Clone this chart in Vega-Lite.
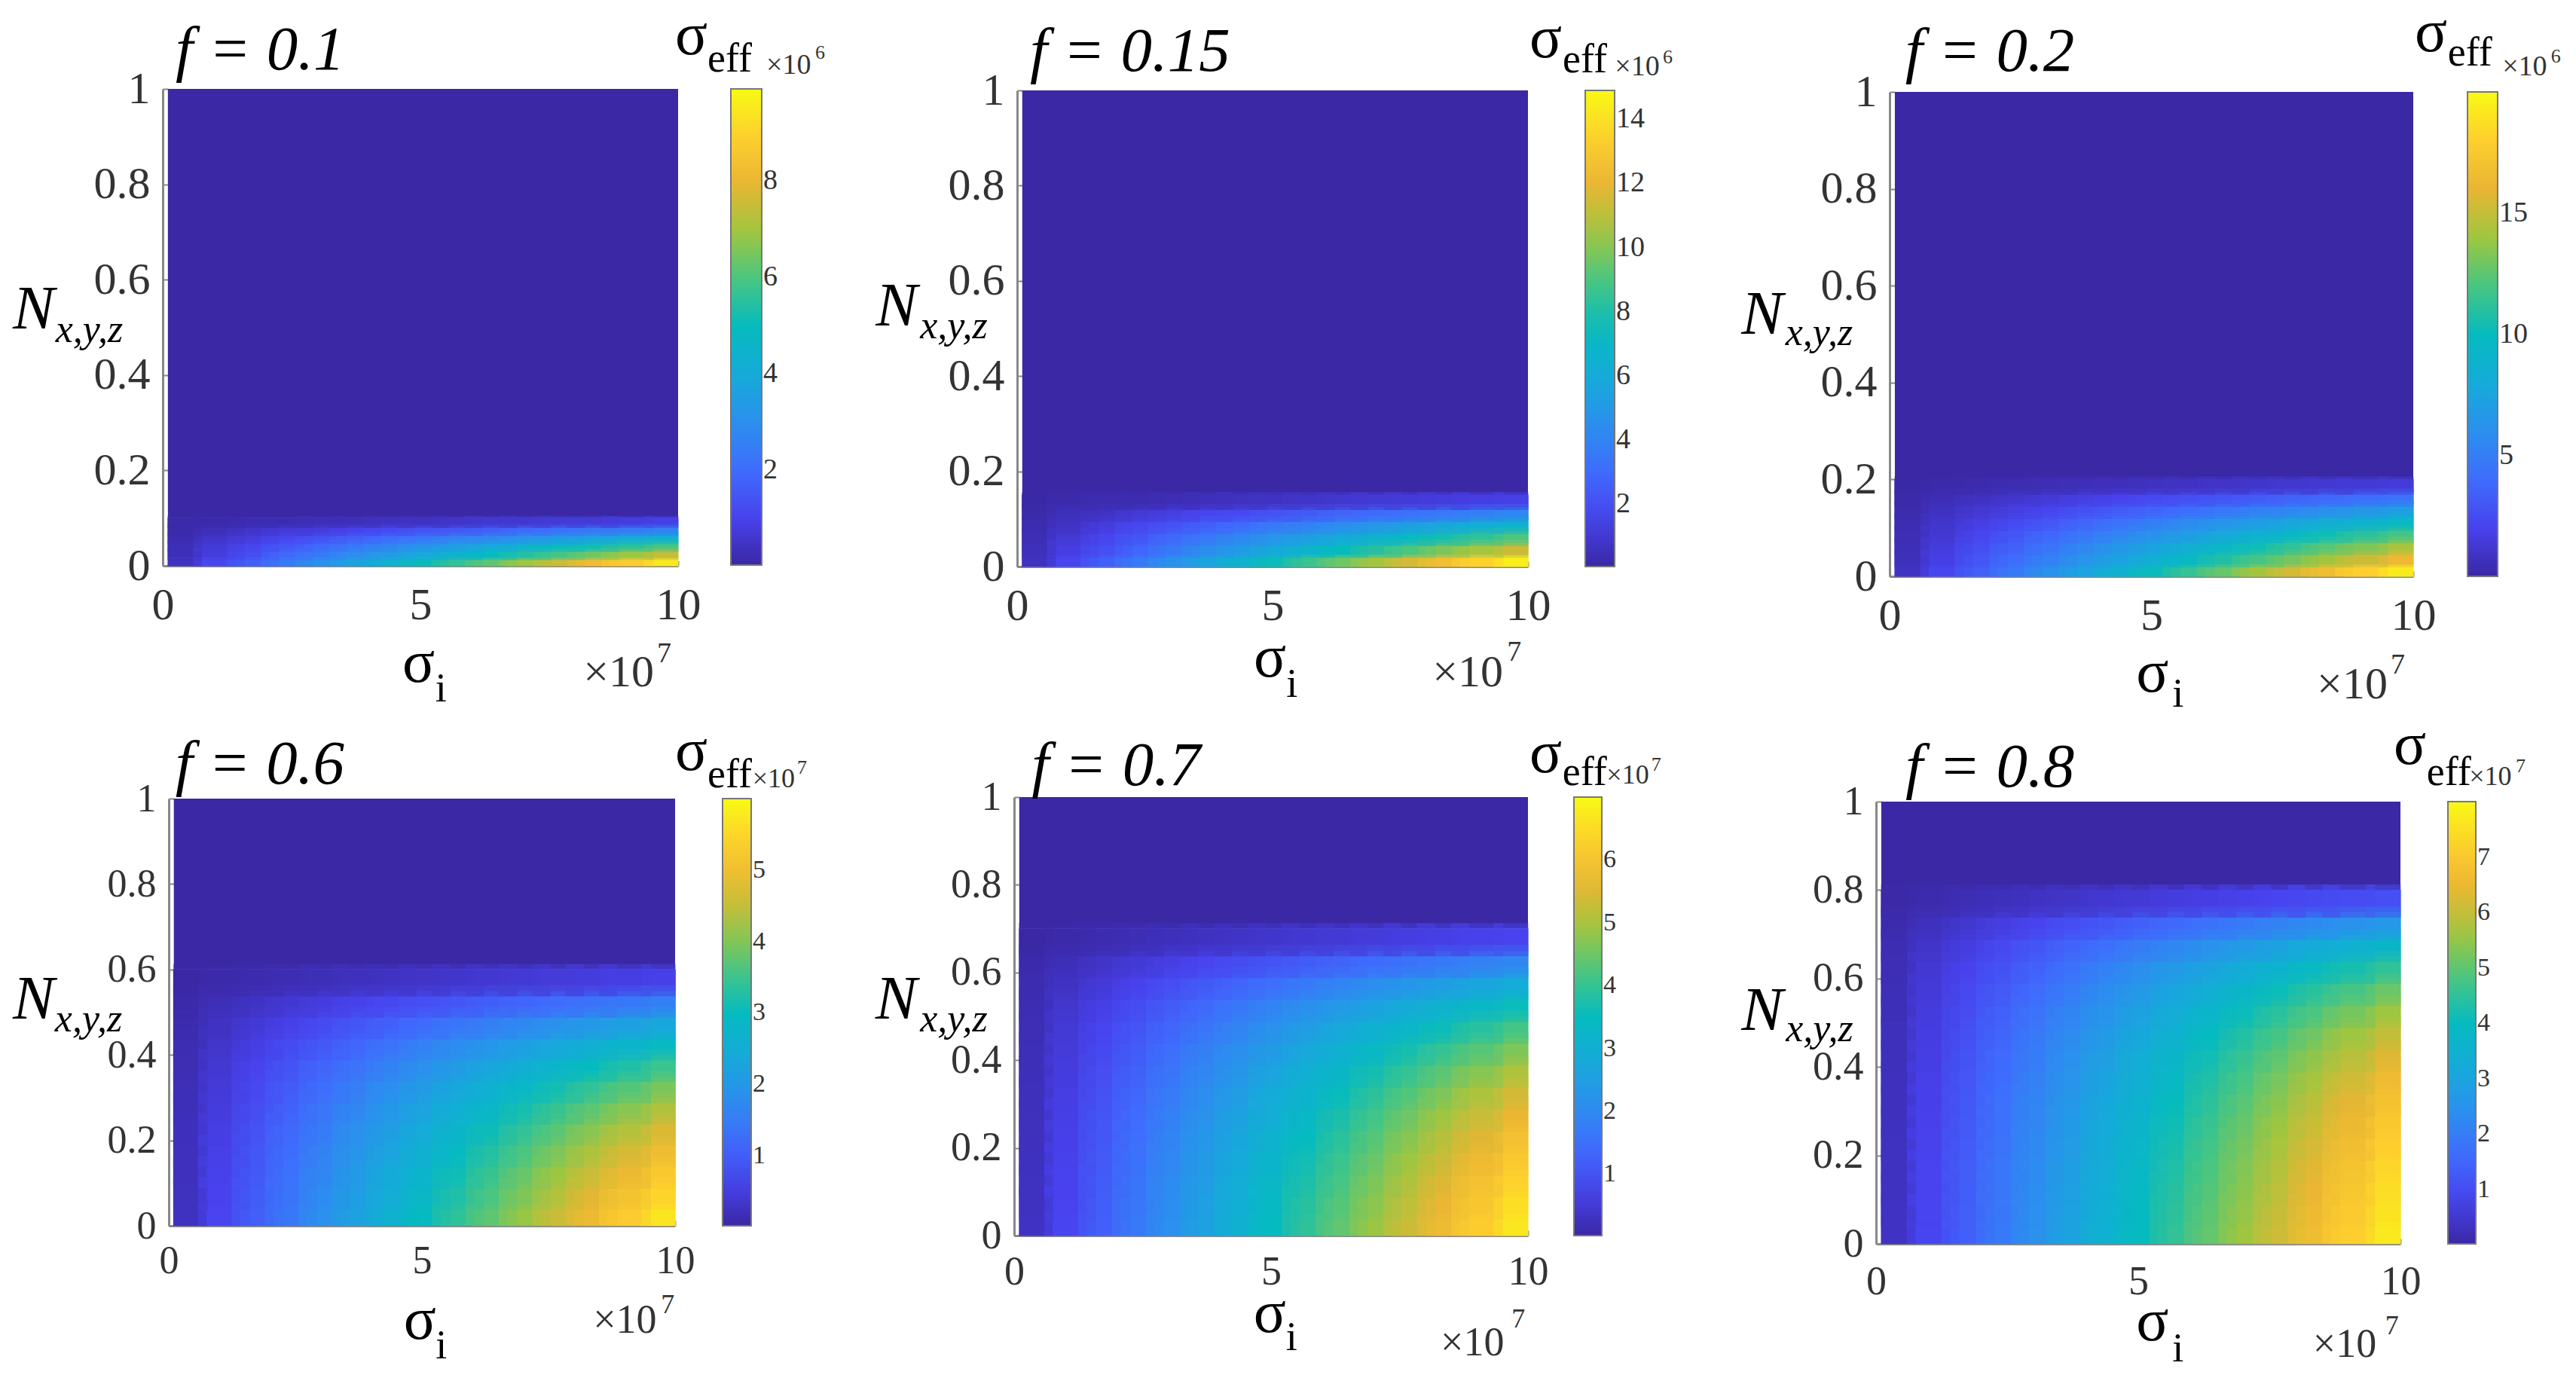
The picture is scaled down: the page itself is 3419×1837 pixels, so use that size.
{"$schema":"https://vega.github.io/schema/vega-lite/v5.json","background":"white","padding":0,"config":{"view":{"stroke":null},"text":{"baseline":"alphabetic","align":"left","font":"Liberation Serif"},"axis":{"grid":false,"title":null,"labelFont":"Liberation Serif","labelColor":"#333333","labelOverlap":false,"labelFlush":false,"domainColor":"#888888","domainWidth":3,"tickColor":"#888888","tickWidth":2,"tickSize":-7,"zindex":1},"legend":{"orient":"none","title":null,"direction":"vertical","labelFont":"Liberation Serif","labelColor":"#333333","gradientOpacity":1,"gradientStrokeColor":"#777777","gradientStrokeWidth":2,"labelOffset":14,"labelOverlap":false}},"resolve":{"scale":{"color":"independent"},"legend":{"color":"independent"}},"columns":3,"spacing":0,"bounds":"flush","align":"none",
"datasets":{
"p1":[
{"s":0.43,"n":0.008,"v":0.4},{"s":1.09,"n":0.008,"v":1.1},{"s":1.75,"n":0.008,"v":1.7},{"s":2.41,"n":0.008,"v":2.4},{"s":3.07,"n":0.008,"v":3.0},{"s":3.73,"n":0.008,"v":3.7},{"s":4.39,"n":0.008,"v":4.3},{"s":5.05,"n":0.008,"v":5.0},{"s":5.71,"n":0.008,"v":5.6},{"s":6.37,"n":0.008,"v":6.2},{"s":7.03,"n":0.008,"v":6.9},{"s":7.69,"n":0.008,"v":7.5},{"s":8.35,"n":0.008,"v":8.2},{"s":9.01,"n":0.008,"v":8.8},{"s":9.67,"n":0.008,"v":9.5},
{"s":0.43,"n":0.025,"v":0.3},{"s":1.09,"n":0.025,"v":0.8},{"s":1.75,"n":0.025,"v":1.3},{"s":2.41,"n":0.025,"v":1.9},{"s":3.07,"n":0.025,"v":2.4},{"s":3.73,"n":0.025,"v":2.9},{"s":4.39,"n":0.025,"v":3.4},{"s":5.05,"n":0.025,"v":3.9},{"s":5.71,"n":0.025,"v":4.4},{"s":6.37,"n":0.025,"v":4.9},{"s":7.03,"n":0.025,"v":5.4},{"s":7.69,"n":0.025,"v":5.9},{"s":8.35,"n":0.025,"v":6.4},{"s":9.01,"n":0.025,"v":6.9},{"s":9.67,"n":0.025,"v":7.4},
{"s":0.43,"n":0.042,"v":0.3},{"s":1.09,"n":0.042,"v":0.7},{"s":1.75,"n":0.042,"v":1.1},{"s":2.41,"n":0.042,"v":1.5},{"s":3.07,"n":0.042,"v":1.9},{"s":3.73,"n":0.042,"v":2.3},{"s":4.39,"n":0.042,"v":2.7},{"s":5.05,"n":0.042,"v":3.1},{"s":5.71,"n":0.042,"v":3.5},{"s":6.37,"n":0.042,"v":3.9},{"s":7.03,"n":0.042,"v":4.3},{"s":7.69,"n":0.042,"v":4.7},{"s":8.35,"n":0.042,"v":5.1},{"s":9.01,"n":0.042,"v":5.5},{"s":9.67,"n":0.042,"v":5.9},
{"s":0.43,"n":0.058,"v":0.2},{"s":1.09,"n":0.058,"v":0.5},{"s":1.75,"n":0.058,"v":0.8},{"s":2.41,"n":0.058,"v":1.1},{"s":3.07,"n":0.058,"v":1.4},{"s":3.73,"n":0.058,"v":1.7},{"s":4.39,"n":0.058,"v":2.0},{"s":5.05,"n":0.058,"v":2.3},{"s":5.71,"n":0.058,"v":2.6},{"s":6.37,"n":0.058,"v":2.8},{"s":7.03,"n":0.058,"v":3.1},{"s":7.69,"n":0.058,"v":3.4},{"s":8.35,"n":0.058,"v":3.7},{"s":9.01,"n":0.058,"v":4.0},{"s":9.67,"n":0.058,"v":4.3},
{"s":0.43,"n":0.075,"v":0.1},{"s":1.09,"n":0.075,"v":0.3},{"s":1.75,"n":0.075,"v":0.5},{"s":2.41,"n":0.075,"v":0.7},{"s":3.07,"n":0.075,"v":0.8},{"s":3.73,"n":0.075,"v":1.0},{"s":4.39,"n":0.075,"v":1.2},{"s":5.05,"n":0.075,"v":1.4},{"s":5.71,"n":0.075,"v":1.5},{"s":6.37,"n":0.075,"v":1.7},{"s":7.03,"n":0.075,"v":1.9},{"s":7.69,"n":0.075,"v":2.1},{"s":8.35,"n":0.075,"v":2.3},{"s":9.01,"n":0.075,"v":2.4},{"s":9.67,"n":0.075,"v":2.6},
{"s":0.43,"n":0.092,"v":0.1},{"s":1.09,"n":0.092,"v":0.1},{"s":1.75,"n":0.092,"v":0.2},{"s":2.41,"n":0.092,"v":0.2},{"s":3.07,"n":0.092,"v":0.3},{"s":3.73,"n":0.092,"v":0.3},{"s":4.39,"n":0.092,"v":0.4},{"s":5.05,"n":0.092,"v":0.4},{"s":5.71,"n":0.092,"v":0.5},{"s":6.37,"n":0.092,"v":0.6},{"s":7.03,"n":0.092,"v":0.6},{"s":7.69,"n":0.092,"v":0.7},{"s":8.35,"n":0.092,"v":0.7},{"s":9.01,"n":0.092,"v":0.8},{"s":9.67,"n":0.092,"v":0.9}
],
"p2":[
{"s":0.43,"n":0.0125,"v":0.6},{"s":1.09,"n":0.0125,"v":1.6},{"s":1.75,"n":0.0125,"v":2.6},{"s":2.41,"n":0.0125,"v":3.6},{"s":3.07,"n":0.0125,"v":4.6},{"s":3.73,"n":0.0125,"v":5.6},{"s":4.39,"n":0.0125,"v":6.6},{"s":5.05,"n":0.0125,"v":7.6},{"s":5.71,"n":0.0125,"v":8.6},{"s":6.37,"n":0.0125,"v":9.6},{"s":7.03,"n":0.0125,"v":10.5},{"s":7.69,"n":0.0125,"v":11.5},{"s":8.35,"n":0.0125,"v":12.5},{"s":9.01,"n":0.0125,"v":13.5},{"s":9.67,"n":0.0125,"v":14.5},
{"s":0.43,"n":0.0375,"v":0.5},{"s":1.09,"n":0.0375,"v":1.3},{"s":1.75,"n":0.0375,"v":2.0},{"s":2.41,"n":0.0375,"v":2.8},{"s":3.07,"n":0.0375,"v":3.6},{"s":3.73,"n":0.0375,"v":4.4},{"s":4.39,"n":0.0375,"v":5.1},{"s":5.05,"n":0.0375,"v":5.9},{"s":5.71,"n":0.0375,"v":6.7},{"s":6.37,"n":0.0375,"v":7.5},{"s":7.03,"n":0.0375,"v":8.2},{"s":7.69,"n":0.0375,"v":9.0},{"s":8.35,"n":0.0375,"v":9.8},{"s":9.01,"n":0.0375,"v":10.5},{"s":9.67,"n":0.0375,"v":11.3},
{"s":0.43,"n":0.0625,"v":0.4},{"s":1.09,"n":0.0625,"v":1.0},{"s":1.75,"n":0.0625,"v":1.6},{"s":2.41,"n":0.0625,"v":2.2},{"s":3.07,"n":0.0625,"v":2.9},{"s":3.73,"n":0.0625,"v":3.5},{"s":4.39,"n":0.0625,"v":4.1},{"s":5.05,"n":0.0625,"v":4.7},{"s":5.71,"n":0.0625,"v":5.3},{"s":6.37,"n":0.0625,"v":5.9},{"s":7.03,"n":0.0625,"v":6.5},{"s":7.69,"n":0.0625,"v":7.2},{"s":8.35,"n":0.0625,"v":7.8},{"s":9.01,"n":0.0625,"v":8.4},{"s":9.67,"n":0.0625,"v":9.0},
{"s":0.43,"n":0.0875,"v":0.3},{"s":1.09,"n":0.0875,"v":0.7},{"s":1.75,"n":0.0875,"v":1.2},{"s":2.41,"n":0.0875,"v":1.7},{"s":3.07,"n":0.0875,"v":2.1},{"s":3.73,"n":0.0875,"v":2.6},{"s":4.39,"n":0.0875,"v":3.0},{"s":5.05,"n":0.0875,"v":3.5},{"s":5.71,"n":0.0875,"v":3.9},{"s":6.37,"n":0.0875,"v":4.4},{"s":7.03,"n":0.0875,"v":4.8},{"s":7.69,"n":0.0875,"v":5.3},{"s":8.35,"n":0.0875,"v":5.7},{"s":9.01,"n":0.0875,"v":6.2},{"s":9.67,"n":0.0875,"v":6.6},
{"s":0.43,"n":0.1125,"v":0.2},{"s":1.09,"n":0.1125,"v":0.5},{"s":1.75,"n":0.1125,"v":0.7},{"s":2.41,"n":0.1125,"v":1.0},{"s":3.07,"n":0.1125,"v":1.3},{"s":3.73,"n":0.1125,"v":1.6},{"s":4.39,"n":0.1125,"v":1.8},{"s":5.05,"n":0.1125,"v":2.1},{"s":5.71,"n":0.1125,"v":2.4},{"s":6.37,"n":0.1125,"v":2.7},{"s":7.03,"n":0.1125,"v":3.0},{"s":7.69,"n":0.1125,"v":3.2},{"s":8.35,"n":0.1125,"v":3.5},{"s":9.01,"n":0.1125,"v":3.8},{"s":9.67,"n":0.1125,"v":4.1},
{"s":0.43,"n":0.1375,"v":0.1},{"s":1.09,"n":0.1375,"v":0.2},{"s":1.75,"n":0.1375,"v":0.3},{"s":2.41,"n":0.1375,"v":0.3},{"s":3.07,"n":0.1375,"v":0.4},{"s":3.73,"n":0.1375,"v":0.5},{"s":4.39,"n":0.1375,"v":0.6},{"s":5.05,"n":0.1375,"v":0.7},{"s":5.71,"n":0.1375,"v":0.8},{"s":6.37,"n":0.1375,"v":0.9},{"s":7.03,"n":0.1375,"v":1.0},{"s":7.69,"n":0.1375,"v":1.1},{"s":8.35,"n":0.1375,"v":1.2},{"s":9.01,"n":0.1375,"v":1.3},{"s":9.67,"n":0.1375,"v":1.4}
],
"p3":[
{"s":0.43,"n":0.0125,"v":0.9},{"s":1.09,"n":0.0125,"v":2.2},{"s":1.75,"n":0.0125,"v":3.5},{"s":2.41,"n":0.0125,"v":4.8},{"s":3.07,"n":0.0125,"v":6.1},{"s":3.73,"n":0.0125,"v":7.5},{"s":4.39,"n":0.0125,"v":8.8},{"s":5.05,"n":0.0125,"v":10.1},{"s":5.71,"n":0.0125,"v":11.4},{"s":6.37,"n":0.0125,"v":12.7},{"s":7.03,"n":0.0125,"v":14.1},{"s":7.69,"n":0.0125,"v":15.4},{"s":8.35,"n":0.0125,"v":16.7},{"s":9.01,"n":0.0125,"v":18.0},{"s":9.67,"n":0.0125,"v":19.3},
{"s":0.43,"n":0.0375,"v":0.7},{"s":1.09,"n":0.0375,"v":1.8},{"s":1.75,"n":0.0375,"v":3.0},{"s":2.41,"n":0.0375,"v":4.1},{"s":3.07,"n":0.0375,"v":5.2},{"s":3.73,"n":0.0375,"v":6.3},{"s":4.39,"n":0.0375,"v":7.4},{"s":5.05,"n":0.0375,"v":8.5},{"s":5.71,"n":0.0375,"v":9.6},{"s":6.37,"n":0.0375,"v":10.8},{"s":7.03,"n":0.0375,"v":11.9},{"s":7.69,"n":0.0375,"v":13.0},{"s":8.35,"n":0.0375,"v":14.1},{"s":9.01,"n":0.0375,"v":15.2},{"s":9.67,"n":0.0375,"v":16.3},
{"s":0.43,"n":0.0625,"v":0.6},{"s":1.09,"n":0.0625,"v":1.6},{"s":1.75,"n":0.0625,"v":2.6},{"s":2.41,"n":0.0625,"v":3.5},{"s":3.07,"n":0.0625,"v":4.5},{"s":3.73,"n":0.0625,"v":5.5},{"s":4.39,"n":0.0625,"v":6.5},{"s":5.05,"n":0.0625,"v":7.4},{"s":5.71,"n":0.0625,"v":8.4},{"s":6.37,"n":0.0625,"v":9.4},{"s":7.03,"n":0.0625,"v":10.3},{"s":7.69,"n":0.0625,"v":11.3},{"s":8.35,"n":0.0625,"v":12.3},{"s":9.01,"n":0.0625,"v":13.2},{"s":9.67,"n":0.0625,"v":14.2},
{"s":0.43,"n":0.0875,"v":0.5},{"s":1.09,"n":0.0875,"v":1.3},{"s":1.75,"n":0.0875,"v":2.2},{"s":2.41,"n":0.0875,"v":3.0},{"s":3.07,"n":0.0875,"v":3.8},{"s":3.73,"n":0.0875,"v":4.6},{"s":4.39,"n":0.0875,"v":5.4},{"s":5.05,"n":0.0875,"v":6.2},{"s":5.71,"n":0.0875,"v":7.0},{"s":6.37,"n":0.0875,"v":7.8},{"s":7.03,"n":0.0875,"v":8.6},{"s":7.69,"n":0.0875,"v":9.5},{"s":8.35,"n":0.0875,"v":10.3},{"s":9.01,"n":0.0875,"v":11.1},{"s":9.67,"n":0.0875,"v":11.9},
{"s":0.43,"n":0.1125,"v":0.4},{"s":1.09,"n":0.1125,"v":1.1},{"s":1.75,"n":0.1125,"v":1.7},{"s":2.41,"n":0.1125,"v":2.4},{"s":3.07,"n":0.1125,"v":3.0},{"s":3.73,"n":0.1125,"v":3.7},{"s":4.39,"n":0.1125,"v":4.3},{"s":5.05,"n":0.1125,"v":5.0},{"s":5.71,"n":0.1125,"v":5.7},{"s":6.37,"n":0.1125,"v":6.3},{"s":7.03,"n":0.1125,"v":7.0},{"s":7.69,"n":0.1125,"v":7.6},{"s":8.35,"n":0.1125,"v":8.3},{"s":9.01,"n":0.1125,"v":8.9},{"s":9.67,"n":0.1125,"v":9.6},
{"s":0.43,"n":0.1375,"v":0.3},{"s":1.09,"n":0.1375,"v":0.8},{"s":1.75,"n":0.1375,"v":1.3},{"s":2.41,"n":0.1375,"v":1.7},{"s":3.07,"n":0.1375,"v":2.2},{"s":3.73,"n":0.1375,"v":2.7},{"s":4.39,"n":0.1375,"v":3.2},{"s":5.05,"n":0.1375,"v":3.6},{"s":5.71,"n":0.1375,"v":4.1},{"s":6.37,"n":0.1375,"v":4.6},{"s":7.03,"n":0.1375,"v":5.1},{"s":7.69,"n":0.1375,"v":5.5},{"s":8.35,"n":0.1375,"v":6.0},{"s":9.01,"n":0.1375,"v":6.5},{"s":9.67,"n":0.1375,"v":7.0},
{"s":0.43,"n":0.1625,"v":0.2},{"s":1.09,"n":0.1625,"v":0.5},{"s":1.75,"n":0.1625,"v":0.8},{"s":2.41,"n":0.1625,"v":1.1},{"s":3.07,"n":0.1625,"v":1.4},{"s":3.73,"n":0.1625,"v":1.7},{"s":4.39,"n":0.1625,"v":2.0},{"s":5.05,"n":0.1625,"v":2.3},{"s":5.71,"n":0.1625,"v":2.6},{"s":6.37,"n":0.1625,"v":2.9},{"s":7.03,"n":0.1625,"v":3.2},{"s":7.69,"n":0.1625,"v":3.5},{"s":8.35,"n":0.1625,"v":3.8},{"s":9.01,"n":0.1625,"v":4.1},{"s":9.67,"n":0.1625,"v":4.4},
{"s":0.43,"n":0.1875,"v":0.1},{"s":1.09,"n":0.1875,"v":0.2},{"s":1.75,"n":0.1875,"v":0.3},{"s":2.41,"n":0.1875,"v":0.4},{"s":3.07,"n":0.1875,"v":0.5},{"s":3.73,"n":0.1875,"v":0.6},{"s":4.39,"n":0.1875,"v":0.7},{"s":5.05,"n":0.1875,"v":0.8},{"s":5.71,"n":0.1875,"v":0.9},{"s":6.37,"n":0.1875,"v":1.0},{"s":7.03,"n":0.1875,"v":1.1},{"s":7.69,"n":0.1875,"v":1.2},{"s":8.35,"n":0.1875,"v":1.3},{"s":9.01,"n":0.1875,"v":1.4},{"s":9.67,"n":0.1875,"v":1.5}
],
"p4":[
{"s":0.43,"n":0.025,"v":0.25},{"s":1.09,"n":0.025,"v":0.64},{"s":1.75,"n":0.025,"v":1.03},{"s":2.41,"n":0.025,"v":1.42},{"s":3.07,"n":0.025,"v":1.81},{"s":3.73,"n":0.025,"v":2.2},{"s":4.39,"n":0.025,"v":2.59},{"s":5.05,"n":0.025,"v":2.98},{"s":5.71,"n":0.025,"v":3.37},{"s":6.37,"n":0.025,"v":3.76},{"s":7.03,"n":0.025,"v":4.15},{"s":7.69,"n":0.025,"v":4.54},{"s":8.35,"n":0.025,"v":4.93},{"s":9.01,"n":0.025,"v":5.32},{"s":9.67,"n":0.025,"v":5.71},
{"s":0.43,"n":0.075,"v":0.24},{"s":1.09,"n":0.075,"v":0.62},{"s":1.75,"n":0.075,"v":0.99},{"s":2.41,"n":0.075,"v":1.37},{"s":3.07,"n":0.075,"v":1.74},{"s":3.73,"n":0.075,"v":2.12},{"s":4.39,"n":0.075,"v":2.49},{"s":5.05,"n":0.075,"v":2.87},{"s":5.71,"n":0.075,"v":3.24},{"s":6.37,"n":0.075,"v":3.62},{"s":7.03,"n":0.075,"v":3.99},{"s":7.69,"n":0.075,"v":4.37},{"s":8.35,"n":0.075,"v":4.74},{"s":9.01,"n":0.075,"v":5.12},{"s":9.67,"n":0.075,"v":5.49},
{"s":0.43,"n":0.125,"v":0.23},{"s":1.09,"n":0.125,"v":0.59},{"s":1.75,"n":0.125,"v":0.95},{"s":2.41,"n":0.125,"v":1.31},{"s":3.07,"n":0.125,"v":1.67},{"s":3.73,"n":0.125,"v":2.03},{"s":4.39,"n":0.125,"v":2.38},{"s":5.05,"n":0.125,"v":2.74},{"s":5.71,"n":0.125,"v":3.1},{"s":6.37,"n":0.125,"v":3.46},{"s":7.03,"n":0.125,"v":3.82},{"s":7.69,"n":0.125,"v":4.18},{"s":8.35,"n":0.125,"v":4.53},{"s":9.01,"n":0.125,"v":4.89},{"s":9.67,"n":0.125,"v":5.25},
{"s":0.43,"n":0.175,"v":0.22},{"s":1.09,"n":0.175,"v":0.56},{"s":1.75,"n":0.175,"v":0.9},{"s":2.41,"n":0.175,"v":1.24},{"s":3.07,"n":0.175,"v":1.58},{"s":3.73,"n":0.175,"v":1.92},{"s":4.39,"n":0.175,"v":2.26},{"s":5.05,"n":0.175,"v":2.6},{"s":5.71,"n":0.175,"v":2.94},{"s":6.37,"n":0.175,"v":3.28},{"s":7.03,"n":0.175,"v":3.62},{"s":7.69,"n":0.175,"v":3.96},{"s":8.35,"n":0.175,"v":4.3},{"s":9.01,"n":0.175,"v":4.64},{"s":9.67,"n":0.175,"v":4.98},
{"s":0.43,"n":0.225,"v":0.21},{"s":1.09,"n":0.225,"v":0.53},{"s":1.75,"n":0.225,"v":0.85},{"s":2.41,"n":0.225,"v":1.17},{"s":3.07,"n":0.225,"v":1.49},{"s":3.73,"n":0.225,"v":1.81},{"s":4.39,"n":0.225,"v":2.12},{"s":5.05,"n":0.225,"v":2.44},{"s":5.71,"n":0.225,"v":2.76},{"s":6.37,"n":0.225,"v":3.08},{"s":7.03,"n":0.225,"v":3.4},{"s":7.69,"n":0.225,"v":3.72},{"s":8.35,"n":0.225,"v":4.04},{"s":9.01,"n":0.225,"v":4.36},{"s":9.67,"n":0.225,"v":4.68},
{"s":0.43,"n":0.275,"v":0.19},{"s":1.09,"n":0.275,"v":0.49},{"s":1.75,"n":0.275,"v":0.78},{"s":2.41,"n":0.275,"v":1.08},{"s":3.07,"n":0.275,"v":1.38},{"s":3.73,"n":0.275,"v":1.67},{"s":4.39,"n":0.275,"v":1.97},{"s":5.05,"n":0.275,"v":2.26},{"s":5.71,"n":0.275,"v":2.56},{"s":6.37,"n":0.275,"v":2.85},{"s":7.03,"n":0.275,"v":3.15},{"s":7.69,"n":0.275,"v":3.45},{"s":8.35,"n":0.275,"v":3.74},{"s":9.01,"n":0.275,"v":4.04},{"s":9.67,"n":0.275,"v":4.33},
{"s":0.43,"n":0.325,"v":0.18},{"s":1.09,"n":0.325,"v":0.44},{"s":1.75,"n":0.325,"v":0.71},{"s":2.41,"n":0.325,"v":0.98},{"s":3.07,"n":0.325,"v":1.25},{"s":3.73,"n":0.325,"v":1.52},{"s":4.39,"n":0.325,"v":1.79},{"s":5.05,"n":0.325,"v":2.06},{"s":5.71,"n":0.325,"v":2.32},{"s":6.37,"n":0.325,"v":2.59},{"s":7.03,"n":0.325,"v":2.86},{"s":7.69,"n":0.325,"v":3.13},{"s":8.35,"n":0.325,"v":3.4},{"s":9.01,"n":0.325,"v":3.67},{"s":9.67,"n":0.325,"v":3.94},
{"s":0.43,"n":0.375,"v":0.15},{"s":1.09,"n":0.375,"v":0.39},{"s":1.75,"n":0.375,"v":0.63},{"s":2.41,"n":0.375,"v":0.87},{"s":3.07,"n":0.375,"v":1.11},{"s":3.73,"n":0.375,"v":1.34},{"s":4.39,"n":0.375,"v":1.58},{"s":5.05,"n":0.375,"v":1.82},{"s":5.71,"n":0.375,"v":2.06},{"s":6.37,"n":0.375,"v":2.29},{"s":7.03,"n":0.375,"v":2.53},{"s":7.69,"n":0.375,"v":2.77},{"s":8.35,"n":0.375,"v":3.01},{"s":9.01,"n":0.375,"v":3.24},{"s":9.67,"n":0.375,"v":3.48},
{"s":0.43,"n":0.425,"v":0.13},{"s":1.09,"n":0.425,"v":0.33},{"s":1.75,"n":0.425,"v":0.53},{"s":2.41,"n":0.425,"v":0.73},{"s":3.07,"n":0.425,"v":0.93},{"s":3.73,"n":0.425,"v":1.13},{"s":4.39,"n":0.425,"v":1.33},{"s":5.05,"n":0.425,"v":1.54},{"s":5.71,"n":0.425,"v":1.74},{"s":6.37,"n":0.425,"v":1.94},{"s":7.03,"n":0.425,"v":2.14},{"s":7.69,"n":0.425,"v":2.34},{"s":8.35,"n":0.425,"v":2.54},{"s":9.01,"n":0.425,"v":2.74},{"s":9.67,"n":0.425,"v":2.94},
{"s":0.43,"n":0.475,"v":0.1},{"s":1.09,"n":0.475,"v":0.26},{"s":1.75,"n":0.475,"v":0.42},{"s":2.41,"n":0.475,"v":0.57},{"s":3.07,"n":0.475,"v":0.73},{"s":3.73,"n":0.475,"v":0.89},{"s":4.39,"n":0.475,"v":1.04},{"s":5.05,"n":0.475,"v":1.2},{"s":5.71,"n":0.475,"v":1.36},{"s":6.37,"n":0.475,"v":1.52},{"s":7.03,"n":0.475,"v":1.67},{"s":7.69,"n":0.475,"v":1.83},{"s":8.35,"n":0.475,"v":1.99},{"s":9.01,"n":0.475,"v":2.14},{"s":9.67,"n":0.475,"v":2.3},
{"s":0.43,"n":0.525,"v":0.07},{"s":1.09,"n":0.525,"v":0.17},{"s":1.75,"n":0.525,"v":0.28},{"s":2.41,"n":0.525,"v":0.38},{"s":3.07,"n":0.525,"v":0.49},{"s":3.73,"n":0.525,"v":0.59},{"s":4.39,"n":0.525,"v":0.69},{"s":5.05,"n":0.525,"v":0.8},{"s":5.71,"n":0.525,"v":0.9},{"s":6.37,"n":0.525,"v":1.01},{"s":7.03,"n":0.525,"v":1.11},{"s":7.69,"n":0.525,"v":1.22},{"s":8.35,"n":0.525,"v":1.32},{"s":9.01,"n":0.525,"v":1.42},{"s":9.67,"n":0.525,"v":1.53},
{"s":0.43,"n":0.575,"v":0.03},{"s":1.09,"n":0.575,"v":0.06},{"s":1.75,"n":0.575,"v":0.1},{"s":2.41,"n":0.575,"v":0.14},{"s":3.07,"n":0.575,"v":0.18},{"s":3.73,"n":0.575,"v":0.22},{"s":4.39,"n":0.575,"v":0.26},{"s":5.05,"n":0.575,"v":0.3},{"s":5.71,"n":0.575,"v":0.34},{"s":6.37,"n":0.575,"v":0.38},{"s":7.03,"n":0.575,"v":0.41},{"s":7.69,"n":0.575,"v":0.45},{"s":8.35,"n":0.575,"v":0.49},{"s":9.01,"n":0.575,"v":0.53},{"s":9.67,"n":0.575,"v":0.57}
],
"p5":[
{"s":0.43,"n":0.025,"v":0.3},{"s":1.09,"n":0.025,"v":0.75},{"s":1.75,"n":0.025,"v":1.21},{"s":2.41,"n":0.025,"v":1.67},{"s":3.07,"n":0.025,"v":2.12},{"s":3.73,"n":0.025,"v":2.58},{"s":4.39,"n":0.025,"v":3.04},{"s":5.05,"n":0.025,"v":3.49},{"s":5.71,"n":0.025,"v":3.95},{"s":6.37,"n":0.025,"v":4.41},{"s":7.03,"n":0.025,"v":4.86},{"s":7.69,"n":0.025,"v":5.32},{"s":8.35,"n":0.025,"v":5.78},{"s":9.01,"n":0.025,"v":6.23},{"s":9.67,"n":0.025,"v":6.69},
{"s":0.43,"n":0.075,"v":0.29},{"s":1.09,"n":0.075,"v":0.74},{"s":1.75,"n":0.075,"v":1.18},{"s":2.41,"n":0.075,"v":1.63},{"s":3.07,"n":0.075,"v":2.08},{"s":3.73,"n":0.075,"v":2.52},{"s":4.39,"n":0.075,"v":2.97},{"s":5.05,"n":0.075,"v":3.41},{"s":5.71,"n":0.075,"v":3.86},{"s":6.37,"n":0.075,"v":4.31},{"s":7.03,"n":0.075,"v":4.75},{"s":7.69,"n":0.075,"v":5.2},{"s":8.35,"n":0.075,"v":5.64},{"s":9.01,"n":0.075,"v":6.09},{"s":9.67,"n":0.075,"v":6.54},
{"s":0.43,"n":0.125,"v":0.28},{"s":1.09,"n":0.125,"v":0.72},{"s":1.75,"n":0.125,"v":1.15},{"s":2.41,"n":0.125,"v":1.58},{"s":3.07,"n":0.125,"v":2.02},{"s":3.73,"n":0.125,"v":2.45},{"s":4.39,"n":0.125,"v":2.88},{"s":5.05,"n":0.125,"v":3.32},{"s":5.71,"n":0.125,"v":3.75},{"s":6.37,"n":0.125,"v":4.19},{"s":7.03,"n":0.125,"v":4.62},{"s":7.69,"n":0.125,"v":5.05},{"s":8.35,"n":0.125,"v":5.49},{"s":9.01,"n":0.125,"v":5.92},{"s":9.67,"n":0.125,"v":6.35},
{"s":0.43,"n":0.175,"v":0.27},{"s":1.09,"n":0.175,"v":0.69},{"s":1.75,"n":0.175,"v":1.11},{"s":2.41,"n":0.175,"v":1.53},{"s":3.07,"n":0.175,"v":1.95},{"s":3.73,"n":0.175,"v":2.37},{"s":4.39,"n":0.175,"v":2.79},{"s":5.05,"n":0.175,"v":3.21},{"s":5.71,"n":0.175,"v":3.63},{"s":6.37,"n":0.175,"v":4.05},{"s":7.03,"n":0.175,"v":4.47},{"s":7.69,"n":0.175,"v":4.89},{"s":8.35,"n":0.175,"v":5.31},{"s":9.01,"n":0.175,"v":5.73},{"s":9.67,"n":0.175,"v":6.15},
{"s":0.43,"n":0.225,"v":0.26},{"s":1.09,"n":0.225,"v":0.67},{"s":1.75,"n":0.225,"v":1.07},{"s":2.41,"n":0.225,"v":1.48},{"s":3.07,"n":0.225,"v":1.88},{"s":3.73,"n":0.225,"v":2.29},{"s":4.39,"n":0.225,"v":2.69},{"s":5.05,"n":0.225,"v":3.1},{"s":5.71,"n":0.225,"v":3.5},{"s":6.37,"n":0.225,"v":3.9},{"s":7.03,"n":0.225,"v":4.31},{"s":7.69,"n":0.225,"v":4.71},{"s":8.35,"n":0.225,"v":5.12},{"s":9.01,"n":0.225,"v":5.52},{"s":9.67,"n":0.225,"v":5.93},
{"s":0.43,"n":0.275,"v":0.25},{"s":1.09,"n":0.275,"v":0.64},{"s":1.75,"n":0.275,"v":1.03},{"s":2.41,"n":0.275,"v":1.41},{"s":3.07,"n":0.275,"v":1.8},{"s":3.73,"n":0.275,"v":2.19},{"s":4.39,"n":0.275,"v":2.57},{"s":5.05,"n":0.275,"v":2.96},{"s":5.71,"n":0.275,"v":3.35},{"s":6.37,"n":0.275,"v":3.73},{"s":7.03,"n":0.275,"v":4.12},{"s":7.69,"n":0.275,"v":4.51},{"s":8.35,"n":0.275,"v":4.89},{"s":9.01,"n":0.275,"v":5.28},{"s":9.67,"n":0.275,"v":5.67},
{"s":0.43,"n":0.325,"v":0.24},{"s":1.09,"n":0.325,"v":0.61},{"s":1.75,"n":0.325,"v":0.97},{"s":2.41,"n":0.325,"v":1.34},{"s":3.07,"n":0.325,"v":1.71},{"s":3.73,"n":0.325,"v":2.07},{"s":4.39,"n":0.325,"v":2.44},{"s":5.05,"n":0.325,"v":2.81},{"s":5.71,"n":0.325,"v":3.17},{"s":6.37,"n":0.325,"v":3.54},{"s":7.03,"n":0.325,"v":3.91},{"s":7.69,"n":0.325,"v":4.28},{"s":8.35,"n":0.325,"v":4.64},{"s":9.01,"n":0.325,"v":5.01},{"s":9.67,"n":0.325,"v":5.38},
{"s":0.43,"n":0.375,"v":0.22},{"s":1.09,"n":0.375,"v":0.57},{"s":1.75,"n":0.375,"v":0.91},{"s":2.41,"n":0.375,"v":1.25},{"s":3.07,"n":0.375,"v":1.6},{"s":3.73,"n":0.375,"v":1.94},{"s":4.39,"n":0.375,"v":2.28},{"s":5.05,"n":0.375,"v":2.63},{"s":5.71,"n":0.375,"v":2.97},{"s":6.37,"n":0.375,"v":3.31},{"s":7.03,"n":0.375,"v":3.66},{"s":7.69,"n":0.375,"v":4.0},{"s":8.35,"n":0.375,"v":4.34},{"s":9.01,"n":0.375,"v":4.69},{"s":9.67,"n":0.375,"v":5.03},
{"s":0.43,"n":0.425,"v":0.21},{"s":1.09,"n":0.425,"v":0.52},{"s":1.75,"n":0.425,"v":0.84},{"s":2.41,"n":0.425,"v":1.15},{"s":3.07,"n":0.425,"v":1.47},{"s":3.73,"n":0.425,"v":1.78},{"s":4.39,"n":0.425,"v":2.1},{"s":5.05,"n":0.425,"v":2.41},{"s":5.71,"n":0.425,"v":2.73},{"s":6.37,"n":0.425,"v":3.04},{"s":7.03,"n":0.425,"v":3.36},{"s":7.69,"n":0.425,"v":3.68},{"s":8.35,"n":0.425,"v":3.99},{"s":9.01,"n":0.425,"v":4.31},{"s":9.67,"n":0.425,"v":4.62},
{"s":0.43,"n":0.475,"v":0.18},{"s":1.09,"n":0.475,"v":0.47},{"s":1.75,"n":0.475,"v":0.75},{"s":2.41,"n":0.475,"v":1.03},{"s":3.07,"n":0.475,"v":1.32},{"s":3.73,"n":0.475,"v":1.6},{"s":4.39,"n":0.475,"v":1.88},{"s":5.05,"n":0.475,"v":2.17},{"s":5.71,"n":0.475,"v":2.45},{"s":6.37,"n":0.475,"v":2.73},{"s":7.03,"n":0.475,"v":3.02},{"s":7.69,"n":0.475,"v":3.3},{"s":8.35,"n":0.475,"v":3.58},{"s":9.01,"n":0.475,"v":3.87},{"s":9.67,"n":0.475,"v":4.15},
{"s":0.43,"n":0.525,"v":0.16},{"s":1.09,"n":0.525,"v":0.4},{"s":1.75,"n":0.525,"v":0.64},{"s":2.41,"n":0.525,"v":0.89},{"s":3.07,"n":0.525,"v":1.13},{"s":3.73,"n":0.525,"v":1.37},{"s":4.39,"n":0.525,"v":1.62},{"s":5.05,"n":0.525,"v":1.86},{"s":5.71,"n":0.525,"v":2.1},{"s":6.37,"n":0.525,"v":2.34},{"s":7.03,"n":0.525,"v":2.59},{"s":7.69,"n":0.525,"v":2.83},{"s":8.35,"n":0.525,"v":3.07},{"s":9.01,"n":0.525,"v":3.32},{"s":9.67,"n":0.525,"v":3.56},
{"s":0.43,"n":0.575,"v":0.13},{"s":1.09,"n":0.575,"v":0.32},{"s":1.75,"n":0.575,"v":0.51},{"s":2.41,"n":0.575,"v":0.71},{"s":3.07,"n":0.575,"v":0.9},{"s":3.73,"n":0.575,"v":1.1},{"s":4.39,"n":0.575,"v":1.29},{"s":5.05,"n":0.575,"v":1.48},{"s":5.71,"n":0.575,"v":1.68},{"s":6.37,"n":0.575,"v":1.87},{"s":7.03,"n":0.575,"v":2.07},{"s":7.69,"n":0.575,"v":2.26},{"s":8.35,"n":0.575,"v":2.45},{"s":9.01,"n":0.575,"v":2.65},{"s":9.67,"n":0.575,"v":2.84},
{"s":0.43,"n":0.625,"v":0.09},{"s":1.09,"n":0.625,"v":0.22},{"s":1.75,"n":0.625,"v":0.35},{"s":2.41,"n":0.625,"v":0.48},{"s":3.07,"n":0.625,"v":0.61},{"s":3.73,"n":0.625,"v":0.75},{"s":4.39,"n":0.625,"v":0.88},{"s":5.05,"n":0.625,"v":1.01},{"s":5.71,"n":0.625,"v":1.14},{"s":6.37,"n":0.625,"v":1.27},{"s":7.03,"n":0.625,"v":1.41},{"s":7.69,"n":0.625,"v":1.54},{"s":8.35,"n":0.625,"v":1.67},{"s":9.01,"n":0.625,"v":1.8},{"s":9.67,"n":0.625,"v":1.93},
{"s":0.43,"n":0.675,"v":0.03},{"s":1.09,"n":0.675,"v":0.08},{"s":1.75,"n":0.675,"v":0.13},{"s":2.41,"n":0.675,"v":0.19},{"s":3.07,"n":0.675,"v":0.24},{"s":3.73,"n":0.675,"v":0.29},{"s":4.39,"n":0.675,"v":0.34},{"s":5.05,"n":0.675,"v":0.39},{"s":5.71,"n":0.675,"v":0.44},{"s":6.37,"n":0.675,"v":0.49},{"s":7.03,"n":0.675,"v":0.54},{"s":7.69,"n":0.675,"v":0.59},{"s":8.35,"n":0.675,"v":0.64},{"s":9.01,"n":0.675,"v":0.69},{"s":9.67,"n":0.675,"v":0.74}
],
"p6":[
{"s":0.43,"n":0.025,"v":0.34},{"s":1.09,"n":0.025,"v":0.87},{"s":1.75,"n":0.025,"v":1.39},{"s":2.41,"n":0.025,"v":1.92},{"s":3.07,"n":0.025,"v":2.44},{"s":3.73,"n":0.025,"v":2.97},{"s":4.39,"n":0.025,"v":3.49},{"s":5.05,"n":0.025,"v":4.01},{"s":5.71,"n":0.025,"v":4.54},{"s":6.37,"n":0.025,"v":5.06},{"s":7.03,"n":0.025,"v":5.59},{"s":7.69,"n":0.025,"v":6.11},{"s":8.35,"n":0.025,"v":6.64},{"s":9.01,"n":0.025,"v":7.16},{"s":9.67,"n":0.025,"v":7.69},
{"s":0.43,"n":0.075,"v":0.34},{"s":1.09,"n":0.075,"v":0.85},{"s":1.75,"n":0.075,"v":1.37},{"s":2.41,"n":0.075,"v":1.89},{"s":3.07,"n":0.075,"v":2.41},{"s":3.73,"n":0.075,"v":2.92},{"s":4.39,"n":0.075,"v":3.44},{"s":5.05,"n":0.075,"v":3.96},{"s":5.71,"n":0.075,"v":4.48},{"s":6.37,"n":0.075,"v":4.99},{"s":7.03,"n":0.075,"v":5.51},{"s":7.69,"n":0.075,"v":6.03},{"s":8.35,"n":0.075,"v":6.55},{"s":9.01,"n":0.075,"v":7.06},{"s":9.67,"n":0.075,"v":7.58},
{"s":0.43,"n":0.125,"v":0.33},{"s":1.09,"n":0.125,"v":0.84},{"s":1.75,"n":0.125,"v":1.35},{"s":2.41,"n":0.125,"v":1.86},{"s":3.07,"n":0.125,"v":2.37},{"s":3.73,"n":0.125,"v":2.88},{"s":4.39,"n":0.125,"v":3.38},{"s":5.05,"n":0.125,"v":3.89},{"s":5.71,"n":0.125,"v":4.4},{"s":6.37,"n":0.125,"v":4.91},{"s":7.03,"n":0.125,"v":5.42},{"s":7.69,"n":0.125,"v":5.93},{"s":8.35,"n":0.125,"v":6.44},{"s":9.01,"n":0.125,"v":6.95},{"s":9.67,"n":0.125,"v":7.46},
{"s":0.43,"n":0.175,"v":0.33},{"s":1.09,"n":0.175,"v":0.83},{"s":1.75,"n":0.175,"v":1.33},{"s":2.41,"n":0.175,"v":1.83},{"s":3.07,"n":0.175,"v":2.33},{"s":3.73,"n":0.175,"v":2.83},{"s":4.39,"n":0.175,"v":3.33},{"s":5.05,"n":0.175,"v":3.83},{"s":5.71,"n":0.175,"v":4.33},{"s":6.37,"n":0.175,"v":4.83},{"s":7.03,"n":0.175,"v":5.33},{"s":7.69,"n":0.175,"v":5.83},{"s":8.35,"n":0.175,"v":6.33},{"s":9.01,"n":0.175,"v":6.83},{"s":9.67,"n":0.175,"v":7.33},
{"s":0.43,"n":0.225,"v":0.32},{"s":1.09,"n":0.225,"v":0.81},{"s":1.75,"n":0.225,"v":1.3},{"s":2.41,"n":0.225,"v":1.79},{"s":3.07,"n":0.225,"v":2.28},{"s":3.73,"n":0.225,"v":2.77},{"s":4.39,"n":0.225,"v":3.26},{"s":5.05,"n":0.225,"v":3.75},{"s":5.71,"n":0.225,"v":4.24},{"s":6.37,"n":0.225,"v":4.73},{"s":7.03,"n":0.225,"v":5.22},{"s":7.69,"n":0.225,"v":5.71},{"s":8.35,"n":0.225,"v":6.2},{"s":9.01,"n":0.225,"v":6.69},{"s":9.67,"n":0.225,"v":7.18},
{"s":0.43,"n":0.275,"v":0.31},{"s":1.09,"n":0.275,"v":0.79},{"s":1.75,"n":0.275,"v":1.27},{"s":2.41,"n":0.275,"v":1.74},{"s":3.07,"n":0.275,"v":2.22},{"s":3.73,"n":0.275,"v":2.7},{"s":4.39,"n":0.275,"v":3.18},{"s":5.05,"n":0.275,"v":3.66},{"s":5.71,"n":0.275,"v":4.13},{"s":6.37,"n":0.275,"v":4.61},{"s":7.03,"n":0.275,"v":5.09},{"s":7.69,"n":0.275,"v":5.57},{"s":8.35,"n":0.275,"v":6.05},{"s":9.01,"n":0.275,"v":6.52},{"s":9.67,"n":0.275,"v":7.0},
{"s":0.43,"n":0.325,"v":0.3},{"s":1.09,"n":0.325,"v":0.77},{"s":1.75,"n":0.325,"v":1.23},{"s":2.41,"n":0.325,"v":1.7},{"s":3.07,"n":0.325,"v":2.16},{"s":3.73,"n":0.325,"v":2.63},{"s":4.39,"n":0.325,"v":3.09},{"s":5.05,"n":0.325,"v":3.56},{"s":5.71,"n":0.325,"v":4.02},{"s":6.37,"n":0.325,"v":4.48},{"s":7.03,"n":0.325,"v":4.95},{"s":7.69,"n":0.325,"v":5.41},{"s":8.35,"n":0.325,"v":5.88},{"s":9.01,"n":0.325,"v":6.34},{"s":9.67,"n":0.325,"v":6.81},
{"s":0.43,"n":0.375,"v":0.29},{"s":1.09,"n":0.375,"v":0.74},{"s":1.75,"n":0.375,"v":1.19},{"s":2.41,"n":0.375,"v":1.64},{"s":3.07,"n":0.375,"v":2.09},{"s":3.73,"n":0.375,"v":2.54},{"s":4.39,"n":0.375,"v":2.99},{"s":5.05,"n":0.375,"v":3.43},{"s":5.71,"n":0.375,"v":3.88},{"s":6.37,"n":0.375,"v":4.33},{"s":7.03,"n":0.375,"v":4.78},{"s":7.69,"n":0.375,"v":5.23},{"s":8.35,"n":0.375,"v":5.68},{"s":9.01,"n":0.375,"v":6.13},{"s":9.67,"n":0.375,"v":6.58},
{"s":0.43,"n":0.425,"v":0.28},{"s":1.09,"n":0.425,"v":0.71},{"s":1.75,"n":0.425,"v":1.14},{"s":2.41,"n":0.425,"v":1.57},{"s":3.07,"n":0.425,"v":2.0},{"s":3.73,"n":0.425,"v":2.43},{"s":4.39,"n":0.425,"v":2.86},{"s":5.05,"n":0.425,"v":3.29},{"s":5.71,"n":0.425,"v":3.72},{"s":6.37,"n":0.425,"v":4.15},{"s":7.03,"n":0.425,"v":4.58},{"s":7.69,"n":0.425,"v":5.01},{"s":8.35,"n":0.425,"v":5.44},{"s":9.01,"n":0.425,"v":5.87},{"s":9.67,"n":0.425,"v":6.3},
{"s":0.43,"n":0.475,"v":0.27},{"s":1.09,"n":0.475,"v":0.67},{"s":1.75,"n":0.475,"v":1.08},{"s":2.41,"n":0.475,"v":1.49},{"s":3.07,"n":0.475,"v":1.9},{"s":3.73,"n":0.475,"v":2.31},{"s":4.39,"n":0.475,"v":2.72},{"s":5.05,"n":0.475,"v":3.13},{"s":5.71,"n":0.475,"v":3.53},{"s":6.37,"n":0.475,"v":3.94},{"s":7.03,"n":0.475,"v":4.35},{"s":7.69,"n":0.475,"v":4.76},{"s":8.35,"n":0.475,"v":5.17},{"s":9.01,"n":0.475,"v":5.58},{"s":9.67,"n":0.475,"v":5.99},
{"s":0.43,"n":0.525,"v":0.25},{"s":1.09,"n":0.525,"v":0.63},{"s":1.75,"n":0.525,"v":1.01},{"s":2.41,"n":0.525,"v":1.4},{"s":3.07,"n":0.525,"v":1.78},{"s":3.73,"n":0.525,"v":2.16},{"s":4.39,"n":0.525,"v":2.54},{"s":5.05,"n":0.525,"v":2.92},{"s":5.71,"n":0.525,"v":3.31},{"s":6.37,"n":0.525,"v":3.69},{"s":7.03,"n":0.525,"v":4.07},{"s":7.69,"n":0.525,"v":4.45},{"s":8.35,"n":0.525,"v":4.83},{"s":9.01,"n":0.525,"v":5.22},{"s":9.67,"n":0.525,"v":5.6},
{"s":0.43,"n":0.575,"v":0.23},{"s":1.09,"n":0.575,"v":0.58},{"s":1.75,"n":0.575,"v":0.93},{"s":2.41,"n":0.575,"v":1.27},{"s":3.07,"n":0.575,"v":1.62},{"s":3.73,"n":0.575,"v":1.97},{"s":4.39,"n":0.575,"v":2.32},{"s":5.05,"n":0.575,"v":2.67},{"s":5.71,"n":0.575,"v":3.02},{"s":6.37,"n":0.575,"v":3.37},{"s":7.03,"n":0.575,"v":3.72},{"s":7.69,"n":0.575,"v":4.07},{"s":8.35,"n":0.575,"v":4.42},{"s":9.01,"n":0.575,"v":4.77},{"s":9.67,"n":0.575,"v":5.12},
{"s":0.43,"n":0.625,"v":0.2},{"s":1.09,"n":0.625,"v":0.51},{"s":1.75,"n":0.625,"v":0.82},{"s":2.41,"n":0.625,"v":1.13},{"s":3.07,"n":0.625,"v":1.43},{"s":3.73,"n":0.625,"v":1.74},{"s":4.39,"n":0.625,"v":2.05},{"s":5.05,"n":0.625,"v":2.36},{"s":5.71,"n":0.625,"v":2.67},{"s":6.37,"n":0.625,"v":2.97},{"s":7.03,"n":0.625,"v":3.28},{"s":7.69,"n":0.625,"v":3.59},{"s":8.35,"n":0.625,"v":3.9},{"s":9.01,"n":0.625,"v":4.21},{"s":9.67,"n":0.625,"v":4.52},
{"s":0.43,"n":0.675,"v":0.17},{"s":1.09,"n":0.675,"v":0.42},{"s":1.75,"n":0.675,"v":0.67},{"s":2.41,"n":0.675,"v":0.93},{"s":3.07,"n":0.675,"v":1.18},{"s":3.73,"n":0.675,"v":1.44},{"s":4.39,"n":0.675,"v":1.69},{"s":5.05,"n":0.675,"v":1.94},{"s":5.71,"n":0.675,"v":2.2},{"s":6.37,"n":0.675,"v":2.45},{"s":7.03,"n":0.675,"v":2.71},{"s":7.69,"n":0.675,"v":2.96},{"s":8.35,"n":0.675,"v":3.21},{"s":9.01,"n":0.675,"v":3.47},{"s":9.67,"n":0.675,"v":3.72},
{"s":0.43,"n":0.725,"v":0.12},{"s":1.09,"n":0.725,"v":0.3},{"s":1.75,"n":0.725,"v":0.48},{"s":2.41,"n":0.725,"v":0.66},{"s":3.07,"n":0.725,"v":0.84},{"s":3.73,"n":0.725,"v":1.02},{"s":4.39,"n":0.725,"v":1.2},{"s":5.05,"n":0.725,"v":1.38},{"s":5.71,"n":0.725,"v":1.56},{"s":6.37,"n":0.725,"v":1.74},{"s":7.03,"n":0.725,"v":1.92},{"s":7.69,"n":0.725,"v":2.1},{"s":8.35,"n":0.725,"v":2.28},{"s":9.01,"n":0.725,"v":2.46},{"s":9.67,"n":0.725,"v":2.64},
{"s":0.43,"n":0.775,"v":0.05},{"s":1.09,"n":0.775,"v":0.12},{"s":1.75,"n":0.775,"v":0.19},{"s":2.41,"n":0.775,"v":0.27},{"s":3.07,"n":0.775,"v":0.34},{"s":3.73,"n":0.775,"v":0.41},{"s":4.39,"n":0.775,"v":0.49},{"s":5.05,"n":0.775,"v":0.56},{"s":5.71,"n":0.775,"v":0.63},{"s":6.37,"n":0.775,"v":0.71},{"s":7.03,"n":0.775,"v":0.78},{"s":7.69,"n":0.775,"v":0.85},{"s":8.35,"n":0.775,"v":0.93},{"s":9.01,"n":0.775,"v":1.0},{"s":9.67,"n":0.775,"v":1.07}
]
},
"concat":[
{"width":1139,"height":918,"encoding":{"x":{"field":"s","type":"quantitative","scale":{"domain":[0,10],"range":[216,900]},"axis":{"values":[0,5,10],"format":"d","labelFontSize":60,"labelPadding":30,"offset":-167}},"y":{"field":"n","type":"quantitative","scale":{"domain":[0,1],"range":[751,118]},"axis":{"values":[0,0.2,0.4,0.6,0.8,1],"format":"~g","labelFontSize":60,"labelPadding":24,"offset":-216}}},"layer":[{"encoding":{"color":{"field":"v","type":"quantitative","scale":{"domain":[0.03,9.9],"interpolate":"rgb","range":["#3a28a4","#4842ee","#3f6cfd","#2b90ee","#15abd9","#05bbbf","#48c682","#a0c63f","#e9b533","#fecf2e","#f8fa14"]},"legend":{"legendX":970,"legendY":118,"gradientLength":632,"gradientThickness":41,"labelFontSize":38,"format":"d","values":[2,4,6,8]}}},"layer":[{"data":{"values":[{"s":0.1,"s2":10,"n":0.1,"n2":1,"v":0.03}]},"mark":"rect","encoding":{"x2":{"field":"s2"},"y2":{"field":"n2"}}},{"data":{"name":"p1"},"mark":{"type":"rect","width":46,"height":11}},{"data":{"name":"p1"},"transform":[{"filter":"datum.n==0.008&&datum.s>0.5&&datum.s<9.6"}],"mark":{"type":"rect","width":69,"height":11,"fillOpacity":0.5}},{"data":{"name":"p1"},"transform":[{"filter":"datum.n>0.008&&(datum.s<0.5||datum.s>9.6)"}],"mark":{"type":"rect","width":46,"height":16,"fillOpacity":0.5}},{"data":{"name":"p1"},"transform":[{"filter":"datum.s>0.5&&datum.s<9.6&&datum.n>0.008"}],"mark":{"type":"rect","width":69,"height":16,"fillOpacity":0.5}}]},
{"data":{"values":[{"s":0.25,"n":1.041,"t":"f = 0.1"},{"s":-2.91,"n":0.498,"t":"N"}]},"mark":{"type":"text","fontStyle":"italic","fontSize":83,"color":"black"},"encoding":{"text":{"field":"t"}}},
{"data":{"values":[{"s":-2.08,"n":0.469,"t":"x,y,z"}]},"mark":{"type":"text","fontStyle":"italic","fontSize":52,"color":"black"},"encoding":{"text":{"field":"t"}}},
{"data":{"values":[{"s":4.65,"n":-0.243,"t":"σ"},{"s":9.94,"n":1.073,"t":"σ"}]},"mark":{"type":"text","fontSize":80,"color":"black"},"encoding":{"text":{"field":"t"}}},
{"data":{"values":[{"s":5.29,"n":-0.284,"t":"i"},{"s":10.57,"n":1.036,"t":"eff"}]},"mark":{"type":"text","fontSize":54,"color":"black"},"encoding":{"text":{"field":"t"}}},
{"data":{"values":[{"s":8.16,"n":-0.253,"t":"×10"}]},"mark":{"type":"text","fontSize":60,"color":"#333333"},"encoding":{"text":{"field":"t"}}},
{"data":{"values":[{"s":9.59,"n":-0.202,"t":"7"},{"s":11.71,"n":1.032,"t":"×10"}]},"mark":{"type":"text","fontSize":38,"color":"#333333"},"encoding":{"text":{"field":"t"}}},
{"data":{"values":[{"s":12.66,"n":1.063,"t":"6"}]},"mark":{"type":"text","fontSize":26,"color":"#333333"},"encoding":{"text":{"field":"t"}}}
]},
{"width":1139,"height":918,"encoding":{"x":{"field":"s","type":"quantitative","scale":{"domain":[0,10],"range":[211,889]},"axis":{"values":[0,5,10],"format":"d","labelFontSize":60,"labelPadding":30,"offset":-166}},"y":{"field":"n","type":"quantitative","scale":{"domain":[0,1],"range":[752,120]},"axis":{"values":[0,0.2,0.4,0.6,0.8,1],"format":"~g","labelFontSize":60,"labelPadding":24,"offset":-211}}},"layer":[{"encoding":{"color":{"field":"v","type":"quantitative","scale":{"domain":[0.05,14.9],"interpolate":"rgb","range":["#3a28a4","#4842ee","#3f6cfd","#2b90ee","#15abd9","#05bbbf","#48c682","#a0c63f","#e9b533","#fecf2e","#f8fa14"]},"legend":{"legendX":965,"legendY":120,"gradientLength":632,"gradientThickness":39,"labelFontSize":38,"format":"d","values":[2,4,6,8,10,12,14]}}},"layer":[{"data":{"values":[{"s":0.1,"s2":10,"n":0.15,"n2":1,"v":0.05}]},"mark":"rect","encoding":{"x2":{"field":"s2"},"y2":{"field":"n2"}}},{"data":{"name":"p2"},"mark":{"type":"rect","width":46,"height":17}},{"data":{"name":"p2"},"transform":[{"filter":"datum.n==0.0125&&datum.s>0.5&&datum.s<9.6"}],"mark":{"type":"rect","width":69,"height":16,"fillOpacity":0.5}},{"data":{"name":"p2"},"transform":[{"filter":"datum.n>0.0125&&(datum.s<0.5||datum.s>9.6)"}],"mark":{"type":"rect","width":46,"height":24,"fillOpacity":0.5}},{"data":{"name":"p2"},"transform":[{"filter":"datum.s>0.5&&datum.s<9.6&&datum.n>0.0125"}],"mark":{"type":"rect","width":69,"height":24,"fillOpacity":0.5}}]},
{"data":{"values":[{"s":0.25,"n":1.041,"t":"f = 0.15"},{"s":-2.77,"n":0.506,"t":"N"}]},"mark":{"type":"text","fontStyle":"italic","fontSize":83,"color":"black"},"encoding":{"text":{"field":"t"}}},
{"data":{"values":[{"s":-1.9,"n":0.479,"t":"x,y,z"}]},"mark":{"type":"text","fontStyle":"italic","fontSize":52,"color":"black"},"encoding":{"text":{"field":"t"}}},
{"data":{"values":[{"s":4.63,"n":-0.231,"t":"σ"},{"s":10.03,"n":1.07,"t":"σ"}]},"mark":{"type":"text","fontSize":80,"color":"black"},"encoding":{"text":{"field":"t"}}},
{"data":{"values":[{"s":5.27,"n":-0.274,"t":"i"},{"s":10.68,"n":1.038,"t":"eff"}]},"mark":{"type":"text","fontSize":54,"color":"black"},"encoding":{"text":{"field":"t"}}},
{"data":{"values":[{"s":8.13,"n":-0.252,"t":"×10"}]},"mark":{"type":"text","fontSize":60,"color":"#333333"},"encoding":{"text":{"field":"t"}}},
{"data":{"values":[{"s":9.59,"n":-0.198,"t":"7"},{"s":11.7,"n":1.032,"t":"×10"}]},"mark":{"type":"text","fontSize":38,"color":"#333333"},"encoding":{"text":{"field":"t"}}},
{"data":{"values":[{"s":12.64,"n":1.057,"t":"6"}]},"mark":{"type":"text","fontSize":26,"color":"#333333"},"encoding":{"text":{"field":"t"}}}
]},
{"width":1139,"height":918,"encoding":{"x":{"field":"s","type":"quantitative","scale":{"domain":[0,10],"range":[230,925]},"axis":{"values":[0,5,10],"format":"d","labelFontSize":60,"labelPadding":30,"offset":-153}},"y":{"field":"n","type":"quantitative","scale":{"domain":[0,1],"range":[765,122]},"axis":{"values":[0,0.2,0.4,0.6,0.8,1],"format":"~g","labelFontSize":60,"labelPadding":24,"offset":-230}}},"layer":[{"encoding":{"color":{"field":"v","type":"quantitative","scale":{"domain":[0.05,20],"interpolate":"rgb","range":["#3a28a4","#4842ee","#3f6cfd","#2b90ee","#15abd9","#05bbbf","#48c682","#a0c63f","#e9b533","#fecf2e","#f8fa14"]},"legend":{"legendX":997,"legendY":122,"gradientLength":643,"gradientThickness":40,"labelFontSize":38,"format":"d","values":[5,10,15]}}},"layer":[{"data":{"values":[{"s":0.1,"s2":10,"n":0.2,"n2":1,"v":0.05}]},"mark":"rect","encoding":{"x2":{"field":"s2"},"y2":{"field":"n2"}}},{"data":{"name":"p3"},"mark":{"type":"rect","width":47,"height":17}},{"data":{"name":"p3"},"transform":[{"filter":"datum.n==0.0125&&datum.s>0.5&&datum.s<9.6"}],"mark":{"type":"rect","width":70,"height":16,"fillOpacity":0.5}},{"data":{"name":"p3"},"transform":[{"filter":"datum.n>0.0125&&(datum.s<0.5||datum.s>9.6)"}],"mark":{"type":"rect","width":47,"height":24,"fillOpacity":0.5}},{"data":{"name":"p3"},"transform":[{"filter":"datum.s>0.5&&datum.s<9.6&&datum.n>0.0125"}],"mark":{"type":"rect","width":70,"height":24,"fillOpacity":0.5}}]},
{"data":{"values":[{"s":0.3,"n":1.044,"t":"f = 0.2"},{"s":-2.83,"n":0.501,"t":"N"}]},"mark":{"type":"text","fontStyle":"italic","fontSize":83,"color":"black"},"encoding":{"text":{"field":"t"}}},
{"data":{"values":[{"s":-1.99,"n":0.477,"t":"x,y,z"}]},"mark":{"type":"text","fontStyle":"italic","fontSize":52,"color":"black"},"encoding":{"text":{"field":"t"}}},
{"data":{"values":[{"s":4.71,"n":-0.238,"t":"σ"},{"s":10.03,"n":1.084,"t":"σ"}]},"mark":{"type":"text","fontSize":80,"color":"black"},"encoding":{"text":{"field":"t"}}},
{"data":{"values":[{"s":5.4,"n":-0.269,"t":"i"},{"s":10.66,"n":1.054,"t":"eff"}]},"mark":{"type":"text","fontSize":54,"color":"black"},"encoding":{"text":{"field":"t"}}},
{"data":{"values":[{"s":8.16,"n":-0.252,"t":"×10"}]},"mark":{"type":"text","fontSize":60,"color":"#333333"},"encoding":{"text":{"field":"t"}}},
{"data":{"values":[{"s":9.57,"n":-0.2,"t":"7"},{"s":11.7,"n":1.034,"t":"×10"}]},"mark":{"type":"text","fontSize":38,"color":"#333333"},"encoding":{"text":{"field":"t"}}},
{"data":{"values":[{"s":12.63,"n":1.06,"t":"6"}]},"mark":{"type":"text","fontSize":26,"color":"#333333"},"encoding":{"text":{"field":"t"}}}
]},
{"width":1139,"height":918,"encoding":{"x":{"field":"s","type":"quantitative","scale":{"domain":[0,10],"range":[224,896]},"axis":{"values":[0,5,10],"format":"d","labelFontSize":52,"labelPadding":28,"offset":-209}},"y":{"field":"n","type":"quantitative","scale":{"domain":[0,1],"range":[709,142]},"axis":{"values":[0,0.2,0.4,0.6,0.8,1],"format":"~g","labelFontSize":52,"labelPadding":24,"offset":-224}}},"layer":[{"encoding":{"color":{"field":"v","type":"quantitative","scale":{"domain":[0.02,6],"interpolate":"rgb","range":["#3a28a4","#4842ee","#3f6cfd","#2b90ee","#15abd9","#05bbbf","#48c682","#a0c63f","#e9b533","#fecf2e","#f8fa14"]},"legend":{"legendX":959,"legendY":142,"gradientLength":567,"gradientThickness":38,"labelFontSize":34,"format":"d","values":[1,2,3,4,5]}}},"layer":[{"data":{"values":[{"s":0.1,"s2":10,"n":0.6,"n2":1,"v":0.02}]},"mark":"rect","encoding":{"x2":{"field":"s2"},"y2":{"field":"n2"}}},{"data":{"name":"p4"},"mark":{"type":"rect","width":46,"height":29}},{"data":{"name":"p4"},"transform":[{"filter":"datum.n==0.025&&datum.s>0.5&&datum.s<9.6"}],"mark":{"type":"rect","width":69,"height":28,"fillOpacity":0.5}},{"data":{"name":"p4"},"transform":[{"filter":"datum.n>0.025&&(datum.s<0.5||datum.s>9.6)"}],"mark":{"type":"rect","width":46,"height":43,"fillOpacity":0.5}},{"data":{"name":"p4"},"transform":[{"filter":"datum.s>0.5&&datum.s<9.6&&datum.n>0.025"}],"mark":{"type":"rect","width":69,"height":43,"fillOpacity":0.5}}]},
{"data":{"values":[{"s":0.13,"n":1.035,"t":"f = 0.6"},{"s":-3.08,"n":0.485,"t":"N"}]},"mark":{"type":"text","fontStyle":"italic","fontSize":83,"color":"black"},"encoding":{"text":{"field":"t"}}},
{"data":{"values":[{"s":-2.25,"n":0.455,"t":"x,y,z"}]},"mark":{"type":"text","fontStyle":"italic","fontSize":52,"color":"black"},"encoding":{"text":{"field":"t"}}},
{"data":{"values":[{"s":4.64,"n":-0.265,"t":"σ"},{"s":10,"n":1.067,"t":"σ"}]},"mark":{"type":"text","fontSize":80,"color":"black"},"encoding":{"text":{"field":"t"}}},
{"data":{"values":[{"s":5.27,"n":-0.31,"t":"i"},{"s":10.64,"n":1.026,"t":"eff"}]},"mark":{"type":"text","fontSize":54,"color":"black"},"encoding":{"text":{"field":"t"}}},
{"data":{"values":[{"s":8.38,"n":-0.25,"t":"×10"}]},"mark":{"type":"text","fontSize":54,"color":"#333333"},"encoding":{"text":{"field":"t"}}},
{"data":{"values":[{"s":9.72,"n":-0.205,"t":"7"},{"s":11.53,"n":1.026,"t":"×10"}]},"mark":{"type":"text","fontSize":36,"color":"#333333"},"encoding":{"text":{"field":"t"}}},
{"data":{"values":[{"s":12.41,"n":1.058,"t":"7"}]},"mark":{"type":"text","fontSize":26,"color":"#333333"},"encoding":{"text":{"field":"t"}}}
]},
{"width":1139,"height":918,"encoding":{"x":{"field":"s","type":"quantitative","scale":{"domain":[0,10],"range":[207,889]},"axis":{"values":[0,5,10],"format":"d","labelFontSize":54,"labelPadding":28,"offset":-196}},"y":{"field":"n","type":"quantitative","scale":{"domain":[0,1],"range":[722,140]},"axis":{"values":[0,0.2,0.4,0.6,0.8,1],"format":"~g","labelFontSize":54,"labelPadding":24,"offset":-207}}},"layer":[{"encoding":{"color":{"field":"v","type":"quantitative","scale":{"domain":[0.02,7],"interpolate":"rgb","range":["#3a28a4","#4842ee","#3f6cfd","#2b90ee","#15abd9","#05bbbf","#48c682","#a0c63f","#e9b533","#fecf2e","#f8fa14"]},"legend":{"legendX":950,"legendY":140,"gradientLength":582,"gradientThickness":37,"labelFontSize":34,"format":"d","values":[1,2,3,4,5,6]}}},"layer":[{"data":{"values":[{"s":0.1,"s2":10,"n":0.7,"n2":1,"v":0.02}]},"mark":"rect","encoding":{"x2":{"field":"s2"},"y2":{"field":"n2"}}},{"data":{"name":"p5"},"mark":{"type":"rect","width":46,"height":30}},{"data":{"name":"p5"},"transform":[{"filter":"datum.n==0.025&&datum.s>0.5&&datum.s<9.6"}],"mark":{"type":"rect","width":69,"height":29,"fillOpacity":0.5}},{"data":{"name":"p5"},"transform":[{"filter":"datum.n>0.025&&(datum.s<0.5||datum.s>9.6)"}],"mark":{"type":"rect","width":46,"height":44,"fillOpacity":0.5}},{"data":{"name":"p5"},"transform":[{"filter":"datum.s>0.5&&datum.s<9.6&&datum.n>0.025"}],"mark":{"type":"rect","width":69,"height":44,"fillOpacity":0.5}}]},
{"data":{"values":[{"s":0.34,"n":1.027,"t":"f = 0.7"},{"s":-2.7,"n":0.495,"t":"N"}]},"mark":{"type":"text","fontStyle":"italic","fontSize":83,"color":"black"},"encoding":{"text":{"field":"t"}}},
{"data":{"values":[{"s":-1.83,"n":0.466,"t":"x,y,z"}]},"mark":{"type":"text","fontStyle":"italic","fontSize":52,"color":"black"},"encoding":{"text":{"field":"t"}}},
{"data":{"values":[{"s":4.66,"n":-0.22,"t":"σ"},{"s":10.03,"n":1.057,"t":"σ"}]},"mark":{"type":"text","fontSize":80,"color":"black"},"encoding":{"text":{"field":"t"}}},
{"data":{"values":[{"s":5.29,"n":-0.261,"t":"i"},{"s":10.67,"n":1.027,"t":"eff"}]},"mark":{"type":"text","fontSize":54,"color":"black"},"encoding":{"text":{"field":"t"}}},
{"data":{"values":[{"s":8.3,"n":-0.273,"t":"×10"}]},"mark":{"type":"text","fontSize":54,"color":"#333333"},"encoding":{"text":{"field":"t"}}},
{"data":{"values":[{"s":9.68,"n":-0.21,"t":"7"},{"s":11.53,"n":1.031,"t":"×10"}]},"mark":{"type":"text","fontSize":36,"color":"#333333"},"encoding":{"text":{"field":"t"}}},
{"data":{"values":[{"s":12.4,"n":1.06,"t":"7"}]},"mark":{"type":"text","fontSize":26,"color":"#333333"},"encoding":{"text":{"field":"t"}}}
]},
{"width":1139,"height":918,"encoding":{"x":{"field":"s","type":"quantitative","scale":{"domain":[0,10],"range":[212,908]},"axis":{"values":[0,5,10],"format":"d","labelFontSize":54,"labelPadding":30,"offset":-185}},"y":{"field":"n","type":"quantitative","scale":{"domain":[0,1],"range":[733,146]},"axis":{"values":[0,0.2,0.4,0.6,0.8,1],"format":"~g","labelFontSize":54,"labelPadding":24,"offset":-212}}},"layer":[{"encoding":{"color":{"field":"v","type":"quantitative","scale":{"domain":[0.02,8],"interpolate":"rgb","range":["#3a28a4","#4842ee","#3f6cfd","#2b90ee","#15abd9","#05bbbf","#48c682","#a0c63f","#e9b533","#fecf2e","#f8fa14"]},"legend":{"legendX":971,"legendY":146,"gradientLength":587,"gradientThickness":37,"labelFontSize":34,"format":"d","values":[1,2,3,4,5,6,7]}}},"layer":[{"data":{"values":[{"s":0.1,"s2":10,"n":0.8,"n2":1,"v":0.02}]},"mark":"rect","encoding":{"x2":{"field":"s2"},"y2":{"field":"n2"}}},{"data":{"name":"p6"},"mark":{"type":"rect","width":47,"height":30}},{"data":{"name":"p6"},"transform":[{"filter":"datum.n==0.025&&datum.s>0.5&&datum.s<9.6"}],"mark":{"type":"rect","width":70,"height":29,"fillOpacity":0.5}},{"data":{"name":"p6"},"transform":[{"filter":"datum.n>0.025&&(datum.s<0.5||datum.s>9.6)"}],"mark":{"type":"rect","width":47,"height":44,"fillOpacity":0.5}},{"data":{"name":"p6"},"transform":[{"filter":"datum.s>0.5&&datum.s<9.6&&datum.n>0.025"}],"mark":{"type":"rect","width":70,"height":44,"fillOpacity":0.5}}]},
{"data":{"values":[{"s":0.56,"n":1.034,"t":"f = 0.8"},{"s":-2.57,"n":0.484,"t":"N"}]},"mark":{"type":"text","fontStyle":"italic","fontSize":83,"color":"black"},"encoding":{"text":{"field":"t"}}},
{"data":{"values":[{"s":-1.72,"n":0.458,"t":"x,y,z"}]},"mark":{"type":"text","fontStyle":"italic","fontSize":52,"color":"black"},"encoding":{"text":{"field":"t"}}},
{"data":{"values":[{"s":4.96,"n":-0.218,"t":"σ"},{"s":9.87,"n":1.085,"t":"σ"}]},"mark":{"type":"text","fontSize":80,"color":"black"},"encoding":{"text":{"field":"t"}}},
{"data":{"values":[{"s":5.65,"n":-0.266,"t":"i"},{"s":10.5,"n":1.037,"t":"eff"}]},"mark":{"type":"text","fontSize":54,"color":"black"},"encoding":{"text":{"field":"t"}}},
{"data":{"values":[{"s":8.33,"n":-0.256,"t":"×10"}]},"mark":{"type":"text","fontSize":54,"color":"#333333"},"encoding":{"text":{"field":"t"}}},
{"data":{"values":[{"s":9.71,"n":-0.204,"t":"7"},{"s":11.31,"n":1.037,"t":"×10"}]},"mark":{"type":"text","fontSize":36,"color":"#333333"},"encoding":{"text":{"field":"t"}}},
{"data":{"values":[{"s":12.2,"n":1.066,"t":"7"}]},"mark":{"type":"text","fontSize":26,"color":"#333333"},"encoding":{"text":{"field":"t"}}}
]}
]}
